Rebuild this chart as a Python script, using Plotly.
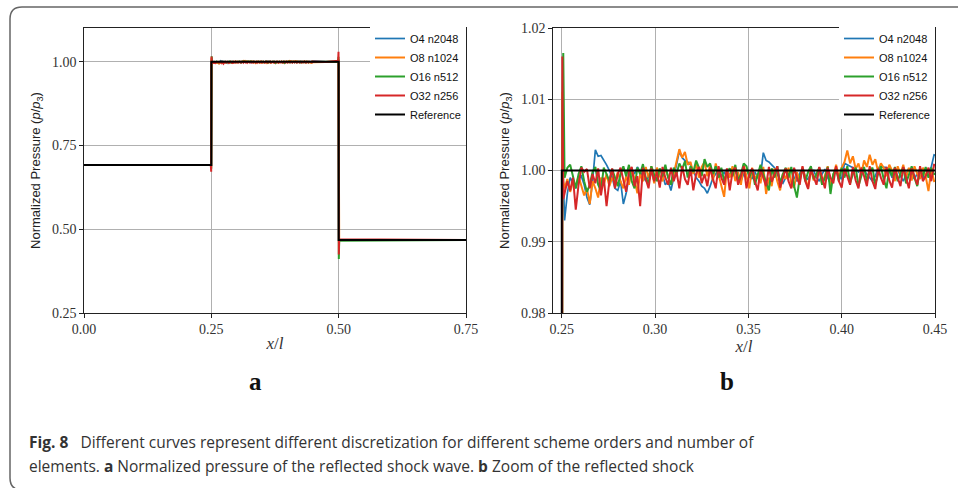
import numpy as np
import plotly.graph_objects as go

# ---------------------------------------------------------------------------
# Data: normalized pressure p/p3 along x/l for four discretizations
# ---------------------------------------------------------------------------
SERIES_NAMES = ["O4 n2048", "O8 n1024", "O16 n512", "O32 n256"]
SERIES_COLORS = ["#1f77b4", "#ff7f0e", "#2ca02c", "#d62728"]

# Positions around the reflected shock (x/l = 0.25), shared by all schemes
SHOCK_X = [0.0, 0.2490, 0.2497, 0.2503, 0.2508]
SHOCK_P = {
    "O4 n2048": [0.692, 0.692, 0.686, 0.9990, 0.9990],
    "O8 n1024": [0.692, 0.692, 0.684, 1.0110, 0.9985],
    "O16 n512": [0.692, 0.692, 0.680, 1.0080, 1.0165],
    "O32 n256": [0.692, 0.692, 0.672, 1.0160, 0.9960],
}

# Post-shock plateau sampling (x/l from 0.2515 to 0.4495, step 0.0015)
PLATEAU_X = np.round(np.linspace(0.2515, 0.4495, 133), 4)
PLATEAU_P = {
    "O4 n2048": [
        0.9930, 0.9968, 0.9990, 0.9982, 0.9975, 0.9988, 0.9992, 0.9980, 0.9962, 0.9952,
        0.9985, 1.0029, 1.0020, 1.0021, 1.0015, 1.0008, 1.0000, 0.9990, 0.9975, 0.9972,
        0.9985, 0.9953, 0.9968, 0.9990, 1.0002, 0.9995, 1.0005, 0.9998, 0.9990, 0.9985,
        0.9992, 0.9998, 0.9985, 0.9990, 0.9982, 0.9994, 0.9980, 0.9985, 0.9972, 0.9990,
        1.0010, 1.0027, 1.0018, 1.0014, 1.0012, 1.0008, 1.0000, 0.9990, 0.9985, 0.9978,
        0.9975, 0.9968, 0.9978, 0.9990, 0.9995, 1.0003, 0.9992, 0.9998, 0.9990, 0.9995,
        1.0003, 1.0000, 0.9990, 0.9985, 0.9995, 1.0002, 0.9993, 0.9988, 0.9998, 0.9990,
        0.9992, 1.0025, 1.0014, 1.0012, 1.0008, 1.0004, 0.9995, 0.9986, 0.9982, 0.9990,
        0.9995, 1.0002, 0.9990, 0.9985, 0.9996, 1.0003, 0.9992, 0.9987, 0.9998, 1.0000,
        0.9990, 0.9985, 0.9995, 1.0002, 0.9990, 0.9982, 0.9993, 1.0000, 0.9992, 0.9988,
        1.0010, 1.0008, 1.0006, 1.0005, 1.0002, 0.9998, 1.0003, 1.0000, 0.9995, 0.9990,
        0.9985, 0.9992, 1.0004, 1.0005, 1.0005, 1.0004, 1.0000, 0.9990, 0.9995, 1.0002,
        0.9992, 0.9985, 0.9995, 1.0003, 0.9995, 0.9988, 0.9996, 1.0000, 0.9990, 0.9993,
        0.9998, 1.0005, 1.0022,
    ],
    "O8 n1024": [
        0.9975, 0.9988, 0.9970, 0.9985, 0.9978, 0.9992, 0.9980, 0.9965, 0.9975, 0.9953,
        0.9985, 0.9975, 0.9962, 0.9990, 0.9980, 0.9995, 0.9978, 0.9990, 0.9982, 0.9998,
        0.9985, 0.9975, 0.9992, 0.9980, 1.0002, 0.9988, 0.9968, 0.9995, 0.9985, 1.0005,
        0.9990, 1.0006, 0.9982, 1.0004, 0.9992, 0.9985, 1.0003, 0.9990, 0.9980, 0.9995,
        1.0012, 1.0030, 1.0018, 1.0026, 1.0008, 1.0012, 0.9995, 1.0010, 0.9990, 1.0005,
        1.0012, 0.9992, 1.0008, 0.9985, 1.0010, 0.9995, 0.9978, 0.9963, 1.0002, 0.9990,
        1.0006, 0.9985, 0.9998, 0.9980, 1.0008, 0.9992, 0.9975, 1.0004, 0.9988, 0.9995,
        0.9982, 1.0005, 0.9967, 0.9990, 0.9978, 1.0003, 0.9985, 0.9972, 0.9996, 0.9988,
        1.0004, 0.9982, 0.9976, 0.9998, 0.9985, 1.0005, 0.9990, 0.9975, 1.0002, 0.9986,
        0.9995, 1.0004, 0.9980, 0.9992, 1.0006, 0.9978, 0.9995, 1.0008, 0.9990, 1.0004,
        1.0012, 1.0028, 1.0010, 1.0020, 1.0002, 1.0010, 0.9995, 1.0014, 1.0005, 1.0022,
        1.0008, 1.0016, 0.9998, 1.0010, 1.0004, 0.9992, 1.0008, 1.0000, 0.9985, 1.0006,
        0.9995, 1.0008, 0.9990, 1.0004, 0.9986, 1.0006, 0.9995, 0.9988, 1.0004, 0.9992,
        0.9971, 1.0002, 0.9985,
    ],
    "O16 n512": [
        0.9990, 1.0004, 1.0008, 0.9992, 0.9975, 0.9995, 1.0006, 0.9985, 0.9970, 0.9980,
        0.9998, 1.0005, 0.9980, 0.9972, 1.0004, 0.9995, 0.9985, 1.0002, 0.9990, 0.9978,
        0.9995, 1.0006, 0.9992, 1.0008, 0.9985, 0.9975, 1.0004, 0.9995, 1.0009, 0.9990,
        0.9982, 1.0006, 0.9995, 0.9985, 1.0003, 0.9992, 1.0008, 0.9990, 0.9980, 1.0004,
        0.9995, 1.0010, 1.0002, 1.0013, 0.9990, 1.0006, 0.9998, 1.0014, 1.0004, 0.9992,
        1.0016, 1.0005, 1.0010, 0.9995, 1.0006, 0.9990, 1.0004, 0.9985, 0.9998, 1.0003,
        0.9992, 1.0008, 0.9985, 0.9995, 1.0010, 1.0006, 0.9990, 1.0002, 0.9980, 0.9995,
        1.0008, 0.9995, 0.9984, 0.9972, 1.0003, 0.9990, 1.0006, 0.9982, 0.9995, 1.0004,
        0.9990, 1.0005, 0.9978, 0.9962, 0.9990, 1.0003, 0.9985, 0.9998, 1.0006, 0.9988,
        0.9995, 1.0004, 0.9980, 0.9990, 1.0005, 0.9967, 0.9995, 1.0002, 0.9985, 1.0004,
        0.9990, 1.0006, 0.9982, 0.9995, 1.0004, 0.9978, 0.9992, 1.0005, 0.9985, 0.9998,
        1.0004, 0.9980, 0.9995, 1.0006, 0.9988, 0.9975, 1.0003, 0.9992, 1.0005, 0.9985,
        0.9996, 1.0004, 0.9982, 0.9995, 1.0006, 0.9990, 0.9978, 1.0003, 0.9992, 1.0005,
        0.9990, 1.0004, 0.9995,
    ],
    "O32 n256": [
        0.9968, 0.9985, 0.9972, 0.9990, 0.9945, 0.9980, 1.0004, 0.9998, 1.0002, 0.9975,
        0.9995, 0.9982, 1.0003, 0.9965, 0.9990, 0.9950, 0.9985, 1.0003, 0.9975, 0.9995,
        1.0004, 0.9985, 0.9970, 0.9998, 1.0005, 0.9978, 0.9992, 0.9950, 1.0004, 0.9988,
        0.9975, 1.0003, 0.9985, 0.9998, 0.9976, 1.0005, 0.9990, 0.9980, 1.0004, 0.9985,
        0.9998, 0.9975, 1.0006, 0.9988, 0.9980, 1.0003, 0.9972, 0.9995, 1.0005, 0.9982,
        0.9995, 0.9978, 1.0004, 0.9988, 0.9975, 1.0006, 0.9990, 0.9980, 1.0003, 0.9972,
        0.9998, 1.0004, 0.9980, 0.9992, 1.0006, 0.9975, 0.9995, 1.0003, 0.9985, 0.9972,
        1.0002, 0.9990, 0.9978, 1.0005, 0.9984, 0.9995, 1.0006, 0.9976, 0.9990, 1.0003,
        0.9985, 0.9975, 1.0004, 0.9990, 0.9980, 1.0006, 0.9985, 0.9974, 1.0002, 0.9992,
        0.9980, 1.0005, 0.9988, 0.9975, 1.0004, 0.9990, 0.9982, 1.0006, 0.9985, 0.9976,
        1.0003, 0.9990, 0.9980, 1.0005, 0.9986, 0.9975, 1.0004, 0.9992, 0.9978, 1.0006,
        0.9985, 0.9974, 1.0003, 0.9990, 0.9980, 1.0005, 0.9986, 0.9976, 1.0004, 0.9990,
        0.9978, 1.0005, 0.9988, 0.9975, 1.0003, 0.9990, 0.9980, 1.0006, 0.9985, 0.9992,
        1.0004, 0.9985, 1.0008,
    ],
}

# Incident shock at x/l = 0.5 and the downstream state
TAIL_X = [0.4750, 0.4990, 0.4997, 0.5003, 0.5010, 0.7500]
TAIL_P = {
    "O4 n2048": [1.0000, 1.0005, 1.0040, 0.4650, 0.4680, 0.468],
    "O8 n1024": [0.9995, 1.0010, 1.0080, 0.4800, 0.4690, 0.468],
    "O16 n512": [1.0002, 1.0010, 1.0150, 0.4110, 0.4660, 0.468],
    "O32 n256": [0.9995, 1.0030, 1.0300, 0.4250, 0.4700, 0.468],
}

# Exact (reference) solution
REF_X = [0.0, 0.25, 0.25, 0.50, 0.50, 0.75]
REF_P = [0.692, 0.692, 1.000, 1.000, 0.468, 0.468]

# Axis ticks
TICKS_A_X = [0.00, 0.25, 0.50, 0.75]
TICKS_A_Y = [0.25, 0.50, 0.75, 1.00]
TICKS_B_X = [0.25, 0.30, 0.35, 0.40, 0.45]
TICKS_B_Y = [0.98, 0.99, 1.00, 1.01, 1.02]

CAPTION_1 = ("<b>Fig. 8</b>   Different curves represent different discretization "
             "for different scheme orders and number of")
CAPTION_2 = ("elements. <b>a</b> Normalized pressure of the reflected shock wave. "
             "<b>b</b> Zoom of the reflected shock")

# ---------------------------------------------------------------------------
W, H = 958, 488


def px_x(p):
    return p / W


def px_y(p):
    return 1 - p / H


fig = go.Figure()

for axes, legend in (("x", "legend"), ("x2", "legend2")):
    yax = "y" if axes == "x" else "y2"
    for name, color in zip(SERIES_NAMES, SERIES_COLORS):
        xs = list(SHOCK_X) + list(PLATEAU_X) + list(TAIL_X)
        ps = SHOCK_P[name] + PLATEAU_P[name] + TAIL_P[name]
        fig.add_trace(go.Scatter(
            x=xs, y=ps, mode="lines", name=name,
            line=dict(color=color, width=2 if name != "O4 n2048" else 1.7),
            xaxis=axes, yaxis=yax, legend=legend,
        ))
    fig.add_trace(go.Scatter(
        x=REF_X, y=REF_P, mode="lines", name="Reference",
        line=dict(color="black", width=2),
        xaxis=axes, yaxis=yax, legend=legend,
    ))

tick_font = dict(family="Liberation Serif", size=14, color="#333")
axis_common = dict(
    showgrid=True, gridcolor="#b0b0b0", gridwidth=1, zeroline=False,
    showline=True, linecolor="#222", linewidth=1.3, mirror=True,
    ticks="outside", ticklen=3.5, tickwidth=1, tickcolor="#222",
    tickfont=tick_font, tickformat=".2f", automargin=False,
)
ytitle = dict(text="Normalized Pressure (<i>p</i>/<i>p</i><sub>3</sub>)",
              font=dict(family="Liberation Sans", size=13, color="#222"),
              standoff=8)
xtitle = dict(text="<i>x</i>/<i>l</i>",
              font=dict(family="Liberation Serif", size=17, color="#333"),
              standoff=0)

ax_a = [px_x(84), px_x(466)]
ax_b = [px_x(553), px_x(935)]
ax_y = [px_y(313), px_y(28)]

legend_style = dict(
    xanchor="right", yanchor="top", bgcolor="white", borderwidth=0,
    font=dict(family="Liberation Sans", size=11, color="#111"),
    itemwidth=30, tracegroupgap=0,
)

fig.update_layout(
    width=W, height=H, autosize=False,
    margin=dict(l=0, r=0, t=0, b=0, autoexpand=False),
    paper_bgcolor="white", plot_bgcolor="white",
    xaxis=dict(domain=ax_a, range=[0.0, 0.75], tickvals=TICKS_A_X,
               anchor="y", title=xtitle, **axis_common),
    yaxis=dict(domain=ax_y, range=[0.25, 1.101], tickvals=TICKS_A_Y,
               anchor="x", title=ytitle, **axis_common),
    xaxis2=dict(domain=ax_b, range=[0.2453, 0.45], tickvals=TICKS_B_X,
                anchor="y2", title=xtitle, **axis_common),
    yaxis2=dict(domain=ax_y, range=[0.98, 1.02], tickvals=TICKS_B_Y,
                anchor="x2", title=ytitle, **axis_common),
    legend=dict(x=ax_a[1], y=px_y(24), **legend_style),
    legend2=dict(x=ax_b[1], y=px_y(24), **legend_style),
    showlegend=True,
)

# Panel letters
for letter, cx in (("a", 256), ("b", 727)):
    fig.add_annotation(text=f"<b>{letter}</b>", x=px_x(cx), y=px_y(381),
                       xref="paper", yref="paper", showarrow=False,
                       xanchor="center", yanchor="middle",
                       font=dict(family="Liberation Serif", size=25, color="#111"))

# Caption
cap_font = dict(family="Open Sans", size=15.5, color="#333")
fig.add_annotation(text=CAPTION_1, x=px_x(27), y=px_y(442), xref="paper",
                   yref="paper", showarrow=False, xanchor="left",
                   yanchor="middle", font=cap_font)
fig.add_annotation(text=CAPTION_2, x=px_x(27), y=px_y(466), xref="paper",
                   yref="paper", showarrow=False, xanchor="left",
                   yanchor="middle", font=cap_font)

# Rounded frame around the figure panel
L, T, R, B, r = 10, 7, 980, 490, 12
frame = (f"M {px_x(R)},{px_y(T)} L {px_x(L + r)},{px_y(T)} "
         f"Q {px_x(L)},{px_y(T)} {px_x(L)},{px_y(T + r)} "
         f"L {px_x(L)},{px_y(B - r)} "
         f"Q {px_x(L)},{px_y(B)} {px_x(L + r)},{px_y(B)} "
         f"L {px_x(R)},{px_y(B)}")
fig.add_shape(type="path", path=frame, xref="paper", yref="paper",
              line=dict(color="#666", width=1.5), layer="below")

fig.write_html("out.html")
